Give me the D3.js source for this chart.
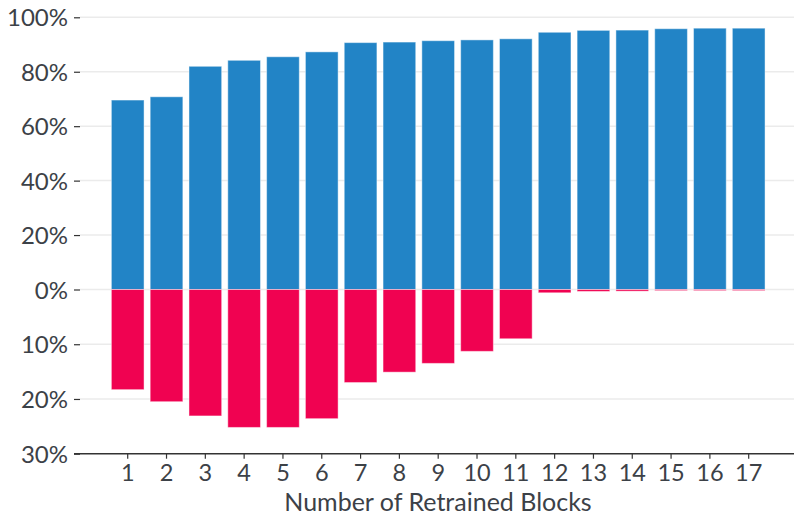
<!DOCTYPE html>
<html>
<head>
<meta charset="utf-8">
<script src="https://cdn.jsdelivr.net/npm/d3@7"></script>
<style>
  html, body { margin: 0; padding: 0; background: #fff; }
  svg { display: block; font-family: Lato, "Open Sans", sans-serif; }
</style>
</head>
<body>
<svg id="chart" width="794" height="516"></svg>
<script>
const blocks = [1, 2, 3, 4, 5, 6, 7, 8, 9, 10, 11, 12, 13, 14, 15, 16, 17];
const positiveValues = [69.6, 70.8, 82.0, 84.2, 85.5, 87.3, 90.7, 90.9, 91.4, 91.7, 92.1, 94.5, 95.2, 95.3, 95.8, 96.0, 96.0];
const negativeValues = [18.3, 20.5, 23.1, 25.2, 25.2, 23.6, 17.0, 15.1, 13.5, 11.3, 9.0, 0.6, 0.35, 0.3, 0.2, 0.2, 0.2];
const positiveTicks = [0, 20, 40, 60, 80, 100];
const negativeTicks = [10, 20, 30];
const xTitle = "Number of Retrained Blocks";

const svg = d3.select("#chart");
const textColor = "#3c4147";
const fontSize = 24;

const zeroY = 289.5;
const yPos = d3.scaleLinear().domain([0, 100]).range([zeroY, 17.3]);
const yNeg = d3.scaleLinear().domain([0, 30]).range([zeroY, 453.7]);

const x = d3.scaleBand()
  .domain(blocks)
  .range([108.3, 768.1])
  .paddingInner(0.158)
  .paddingOuter(0.079);

const gridLeft = 80, gridRight = 794;

// gridlines
const grid = svg.append("g");
positiveTicks.forEach(t => {
  grid.append("line").attr("x1", gridLeft).attr("x2", gridRight)
    .attr("y1", yPos(t)).attr("y2", yPos(t))
    .attr("stroke", "#ebebeb").attr("stroke-width", 1.5);
});
negativeTicks.filter(t => t < 30).forEach(t => {
  grid.append("line").attr("x1", gridLeft).attr("x2", gridRight)
    .attr("y1", yNeg(t)).attr("y2", yNeg(t))
    .attr("stroke", "#ebebeb").attr("stroke-width", 1.5);
});

// bars
const bars = svg.append("g");
bars.selectAll("rect.pos").data(blocks).join("rect")
  .attr("class", "pos")
  .attr("x", d => x(d))
  .attr("width", x.bandwidth())
  .attr("y", (d, i) => yPos(positiveValues[i]))
  .attr("height", (d, i) => yPos(0) - yPos(positiveValues[i]))
  .attr("fill", "#2284c6")
  .attr("stroke", "rgba(255,255,255,0.45)")
  .attr("stroke-width", 1);

bars.selectAll("rect.neg").data(blocks).join("rect")
  .attr("class", "neg")
  .attr("x", d => x(d))
  .attr("width", x.bandwidth())
  .attr("y", yNeg(0))
  .attr("height", (d, i) => yNeg(negativeValues[i]) - yNeg(0))
  .attr("fill", "#f00251")
  .attr("stroke", "rgba(255,255,255,0.45)")
  .attr("stroke-width", 1);

// y axis (positive and negative sides)
const yAxisPos = d3.axisLeft(yPos).tickValues(positiveTicks)
  .tickFormat(d => d + "%").tickSize(6).tickPadding(6);
const gyp = svg.append("g").attr("transform", "translate(80,0)").call(yAxisPos);
const yAxisNeg = d3.axisLeft(yNeg).tickValues(negativeTicks)
  .tickFormat(d => d + "%").tickSize(6).tickPadding(6);
const gyn = svg.append("g").attr("transform", "translate(80,0)").call(yAxisNeg);
[gyp, gyn].forEach(g => {
  g.select(".domain").remove();
  g.selectAll(".tick line").attr("stroke", "#333").attr("stroke-width", 1.2);
  g.selectAll(".tick text").attr("fill", textColor)
    .style("font-size", fontSize + "px").style("font-family", "Lato, sans-serif")
    .attr("dy", "0.36em");
});

// x axis
const xAxis = d3.axisBottom(x).tickSize(5).tickPadding(6);
const gx = svg.append("g").attr("transform", `translate(0,${yNeg(30)})`).call(xAxis);
gx.select(".domain").remove();
gx.append("line").attr("x1", 74).attr("x2", 794).attr("y1", 0).attr("y2", 0)
  .attr("stroke", "#333").attr("stroke-width", 1.5);
gx.selectAll(".tick line").attr("stroke", "#333").attr("stroke-width", 1.2);
gx.selectAll(".tick text").attr("fill", textColor)
  .style("font-size", "23.5px").style("font-family", "Lato, sans-serif");

svg.append("text")
  .attr("x", 438).attr("y", 511)
  .attr("text-anchor", "middle")
  .attr("fill", textColor)
  .style("font-size", "25px").style("font-family", "Lato, sans-serif")
  .text(xTitle);
</script>
</body>
</html>
